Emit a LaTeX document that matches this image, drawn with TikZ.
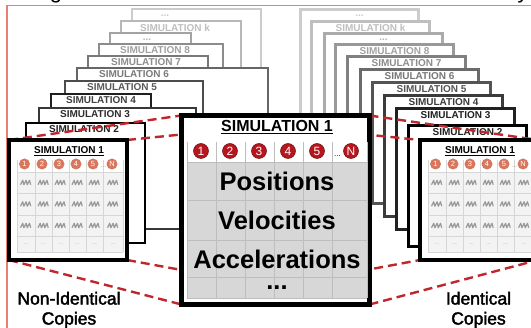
\documentclass[tikz,border=0pt]{standalone}
\usepackage{fontspec}
\setmainfont{Liberation Sans}
\newfontfamily\captionfont{Liberation Sans}[FakeBold=2.2]
\pgfdeclarelayer{stack}
\pgfdeclarelayer{links}
\pgfsetlayers{stack,links,main}
\definecolor{simred}{HTML}{B7161E}
\definecolor{linkred}{HTML}{C0272D}
\definecolor{salmon}{HTML}{D9765E}
\definecolor{framered}{HTML}{E8806F}
\definecolor{cellgray}{HTML}{D7D7D7}
\definecolor{gridgray}{HTML}{BDBDBD}
\definecolor{minicell}{HTML}{F3F3F3}
\definecolor{minigrid}{HTML}{D6D6D6}

\tikzset{
  stackbox/.style={fill=white, line width=2.6pt},
  stacklabel/.style={font=\fontsize{10}{12}\selectfont\bfseries, inner sep=0pt},
  frontbox/.style={draw=black, fill=white, line width=4pt, outer sep=0pt, inner sep=0pt},
  link/.style={draw=linkred, line width=2.4pt, dash pattern=on 9pt off 5pt},
  bigball/.style={circle, fill=simred, draw=simred!60!black, line width=0.5pt,
    minimum size=15pt, inner sep=0pt, text=white, font=\fontsize{12}{12}\selectfont},
  miniball/.style={circle, fill=salmon, minimum size=11pt, inner sep=0pt,
    text=white, font=\fontsize{7.5}{8}\selectfont},
  rowtext/.style={font=\fontsize{25.5}{25}\selectfont\bfseries, inner sep=0pt},
  caption/.style={font=\captionfont\fontsize{17.5}{20}\selectfont, align=center, inner sep=0pt},
  wiggle/.style={draw=black!40, line width=1.2pt, line join=round},
  titletext/.style={inner sep=0pt},
  mini/.pic={
    \node[frontbox, minimum width=118pt, minimum height=120pt] (-box) at (61,62) {};
    \fill[minicell] (10,34) rectangle (116,114);
    \foreach \c in {10,28,45,62,79,96,116}
      \draw[minigrid, line width=0.7pt] (\c,22) -- (\c,114);
    \foreach \r in {34,55,77,98,114}
      \draw[minigrid, line width=0.7pt] (10,\r) -- (116,\r);
    \node[titletext, font=\fontsize{10}{12}\selectfont\bfseries] (-title) at (62,12) {SIMULATION 1};
    \draw[line width=0.8pt] ([yshift=-1.5pt]-title.base west) -- ([yshift=-1.5pt]-title.base east);
    \foreach \x/\t [count=\n] in {17.5/1,35/2,52/3,69/4,86/5,105/N}
      \node[miniball] (-ball\n) at (\x,26) {\t};
    \node[font=\fontsize{6}{6}\selectfont, text=black!50, inner sep=0pt] (-dots) at (96.5,29.5) {...};
    \foreach \x in {19,36.5,53.5,70.5,87.5,106} {
      \foreach \y in {44.5,66,87.5}
        \draw[wiggle] (\x-5.5,\y+2.2) -- ++(2.2,-4.4) -- ++(1.2,4.4) -- ++(2.2,-4.4) -- ++(1.2,4.4) -- ++(2.2,-4.4) -- ++(1.2,4.4);
      \node[font=\fontsize{6}{6}\selectfont, text=black!30, inner sep=0pt] at (\x,106) {...};
    }
  }
}

\begin{document}
\begin{tikzpicture}[x=1pt,y=-1pt]
\useasboundingbox (0,0) rectangle (531,328);

% heading glyphs running in from above
\node[anchor=base, inner sep=0pt, font=\fontsize{22}{22}\selectfont] (headg) at (56,-1) {g};
\node[anchor=base, inner sep=0pt, font=\fontsize{22}{22}\selectfont] (heady) at (523,-1) {y};

% magnified central simulation
\node[frontbox, line width=5pt, minimum width=188pt, minimum height=189pt] (big) at (275.5,210) {};
\fill[cellgray] (187,162) rectangle (367,298);
\foreach \c in {187,216,245,274,303,332,367}
  \draw[gridgray, line width=0.8pt] (\c,142) -- (\c,298);
\foreach \r in {162,200,240,277,298}
  \draw[gridgray, line width=0.8pt] (187,\r) -- (367,\r);
\node[titletext, font=\fontsize{16}{16}\selectfont\bfseries] (bigtitle) at (277,126) {SIMULATION 1};
\draw[line width=1.2pt] ([yshift=-2pt]bigtitle.base west) -- ([yshift=-2pt]bigtitle.base east);
\foreach \x/\t [count=\n] in {201/1,230/2,259/3,288/4,317/5,351/N}
  \node[bigball] (bb\n) at (\x,151) {\t};
\node[font=\fontsize{8}{8}\selectfont, inner sep=0pt] (bbdots) at (337.5,156) {...};
\node[rowtext] (pos) at (277,181) {Positions};
\node[rowtext] (vel) at (277,220) {Velocities};
\node[rowtext] (acc) at (277,259) {Accelerations};
\node[rowtext, anchor=base] (more) at (277,290) {...};

% front copies on both sides
\pic (L) at (7,138) {mini};
\pic (R) at (418,138) {mini};

% captions
\node[caption] (capL) at (69,310) {Non-Identical\\Copies};
\node[caption] (capR) at (478.5,310) {Identical\\Copies};

% zoom lines
\begin{pgfonlayer}{links}
  \draw[link] (L-box.north west) -- (big.north west);
  \draw[link] (L-box.north east) -- (big.north east);
  \draw[link] (L-box.south west) -- (big.south west);
  \draw[link] (L-box.south east) -- (big.south east);
  \draw[link] (big.north west) -- (R-box.north west);
  \draw[link] (big.north east) -- (R-box.north east);
  \draw[link] (big.south west) -- (R-box.south west);
  \draw[link] (big.south east) -- (R-box.south east);
\end{pgfonlayer}

% stacks of simulations
\begin{pgfonlayer}{stack}
  \draw[framered, line width=1.2pt] (7,340) -- (7,5.5) -- (540,5.5);
  % non-identical copies: different widths
  \foreach \l/\t/\r/\b/\bs/\ts/\lx/\txt [count=\n] in {
      132/9/261/229/20/22/165/{...},
      121/21/241/229/28/25/175/SIMULATION k,
      110/33/191/229/36/30/147/{...},
      99/44/223/229/45/37/155/SIMULATION 8,
      88/56/208/229/53/45/146/SIMULATION 7,
      77/68/268/229/60/52/134/SIMULATION 6,
      65/81/203/229/70/65/122/SIMULATION 5,
      51/94/151/229/88/75/101/SIMULATION 4,
      39/108/196/229/78/82/95/SIMULATION 3,
      26/123/145/243/100/88/84/SIMULATION 2} {
    \draw[stackbox, draw=black!\bs] (\l,\t) rectangle (\r,\b);
    \node[stacklabel, text=black!\ts] (ls\n) at (\lx,\t+6.5) {\txt};
  }
  % identical copies: same size, shifted
  \foreach \l/\t/\bs/\ts/\txt [count=\n] in {
      300.5/9.5/20/20/{...},
      311.5/21.5/25/25/SIMULATION k,
      324.5/33.5/33/30/{...},
      335.5/44.5/40/37/SIMULATION 8,
      347.5/56.5/50/45/SIMULATION 7,
      360.5/69.5/58/53/SIMULATION 6,
      372.5/82.5/67/67/SIMULATION 5,
      384.5/95.5/77/77/SIMULATION 4,
      396.5/108.5/87/87/SIMULATION 3,
      408.5/125.5/100/87/SIMULATION 2} {
    \draw[stackbox, draw=black!\bs] (\l,\t) rectangle ++(118,121);
    \node[stacklabel, text=black!\ts] (rs\n) at (\l+59,\t+6.5) {\txt};
  }
\end{pgfonlayer}
\end{tikzpicture}
\end{document}
